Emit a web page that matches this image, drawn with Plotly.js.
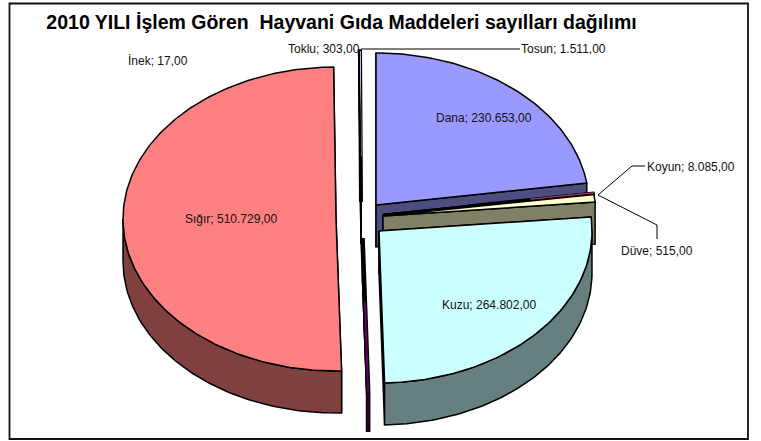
<!DOCTYPE html>
<html><head><meta charset="utf-8">
<script src="https://cdn.plot.ly/plotly-3.0.1.min.js"></script>
<style>html,body{margin:0;padding:0;background:#fff}#c{width:761px;height:441px}</style>
</head><body><div id="c"></div>
<script>
// Data, clockwise from 12 o'clock
var categories = ["Dana","Düve","Koyun","Kuzu","İnek","Sığır","Toklu","Tosun"];
var values = [230653,515,8085,264802,17,510729,303,1511];
var topColors = ["#9999ff","#993366","#ffffcc","#ccffff","#660066","#ff8080","#0066cc","#ccccff"];
var sideColors = ["#4d4d80","#4d1a33","#808066","#668080","#330033","#804040","#003366","#666680"];
// Exploded slice centres in the chart's pixel-like coordinates
var centreX = [376,383,383,379,362.5,336,361,361];
var centreY = [205,214.5,216,231,238,219,202,202];
var radiusX = 213, radiusY = 152, depth = 42;
var drawOrder = [7,6,5,4,0,1,2,3];
var titleText = "2010 YILI İşlem Gören\u00a0\u00a0Hayvani Gıda Maddeleri sayılları dağılımı";
// label anchor [x, y, xanchor]
var labelPos = {
  "Dana":[484,118,"center"],"Düve":[619,251,"left"],"Koyun":[645,167,"left"],"Kuzu":[489,305,"center"],
  "İnek":[126,61,"left"],"Sığır":[231,219,"center"],"Toklu":[362,49,"right"],"Tosun":[519,49,"left"]};
var leaders = [
  {x:[361,520],y:[49,49]},
  {x:[598,632,645],y:[195,166,166]},
  {x:[598,657,657],y:[195,225,239]}];

function fmt(v){return v.toString().replace(/\B(?=(\d{3})+$)/g,".")+",00";}
var total = values.reduce(function(a,b){return a+b;},0);
var cum = 0, starts = [], ends = [];
values.forEach(function(v){starts.push(cum);cum+=v/total*360;ends.push(cum);});
function pt(i,deg,dy){var r=deg*Math.PI/180;return [centreX[i]+radiusX*Math.sin(r),centreY[i]-radiusY*Math.cos(r)+(dy||0)];}
function arc(i,a,b,dy){var n=Math.max(1,Math.ceil(Math.abs(b-a))),o=[];for(var k=0;k<=n;k++)o.push(pt(i,a+(b-a)*k/n,dy));return o;}
var lw=1.5;
function poly(pts,fill,lc,w){
  return {type:"scatter",mode:"lines",x:pts.map(function(p){return p[0];}).concat([pts[0][0]]),
    y:pts.map(function(p){return p[1];}).concat([pts[0][1]]),fill:"toself",fillcolor:fill,
    line:{color:lc||"#000",width:w||lw},hoverinfo:"skip",showlegend:false};
}
function stroke(pts,c,w){
  return {type:"scatter",mode:"lines",x:pts.map(function(p){return p[0];}),y:pts.map(function(p){return p[1];}),
    line:{color:c,width:w},hoverinfo:"skip",showlegend:false};
}
var traces=[];
drawOrder.forEach(function(i){
  var a=starts[i],b=ends[i],c=[centreX[i],centreY[i]],n=categories[i];
  [a,b].forEach(function(t){
    var e=pt(i,t);
    traces.push(poly([c,e,[e[0],e[1]+depth],[c[0],c[1]+depth]],sideColors[i]));
  });
  var sa=Math.max(a,90),sb=Math.min(b,270);
  if(sb>sa){traces.push(poly(arc(i,sa,sb,0).concat(arc(i,sb,sa,depth)),sideColors[i]));}
  traces.push(poly([c].concat(arc(i,a,b,0)),topColors[i]));
  if(n==="Düve"){
    var e=pt(i,(a+b)/2);
    traces.push(stroke([[c[0]+(e[0]-c[0])*0.4,c[1]+(e[1]-c[1])*0.4],e],"#000",2.6));
    traces.push(stroke([[c[0]+(e[0]-c[0])*0.7,c[1]+(e[1]-c[1])*0.7],e],topColors[i],1.4));
  }
  if(n==="İnek"){
    var e2=pt(i,a),lo=[e2[0],e2[1]+depth];
    traces.push(stroke([c,e2,lo],"#000",4.6));
    traces.push(stroke([[c[0]+(e2[0]-c[0])*0.42,c[1]+(e2[1]-c[1])*0.42],e2],topColors[i],2));
    traces.push(stroke([e2,[lo[0],lo[1]-1]],sideColors[i],2));
  }
  if(n==="Tosun"){
    var e3=pt(i,(a+b)/2);
    traces.push(stroke([c,e3],"#000",4));
    traces.push(stroke([[c[0]+(e3[0]-c[0])*0.3,c[1]+(e3[1]-c[1])*0.3],[e3[0],e3[1]+1]],topColors[i],1.6));
  }
});
leaders.forEach(function(l){
  traces.push({type:"scatter",mode:"lines",x:l.x,y:l.y,line:{color:"#000",width:1},hoverinfo:"skip",showlegend:false});
});
var annotations=categories.map(function(n,i){
  var p=labelPos[n];
  return {x:p[0],y:p[1],xref:"x",yref:"y",xanchor:p[2],yanchor:"middle",showarrow:false,
    text:n+"; "+fmt(values[i]),font:{family:"Liberation Sans",size:12,color:"#111"}};
});
var layout={width:761,height:441,margin:{l:0,r:0,t:0,b:0},paper_bgcolor:"#fff",plot_bgcolor:"#fff",
  title:{text:"<b>"+titleText+"</b>",font:{family:"Liberation Sans",size:19.5,color:"#000"},x:341.5/761,xanchor:"center",y:1-22/441,yanchor:"middle",
    pad:{t:0,b:0,l:0,r:0}},
  xaxis:{range:[0,761],visible:false,fixedrange:true},
  yaxis:{range:[441,0],visible:false,fixedrange:true},
  annotations:annotations,
  shapes:[{type:"rect",xref:"x",yref:"y",x0:9.5,y0:3.5,x1:748,y1:439,line:{color:"#111",width:1.8},layer:"below"}]
};
Plotly.newPlot("c",traces,layout,{displayModeBar:false,staticPlot:true});
</script></body></html>
